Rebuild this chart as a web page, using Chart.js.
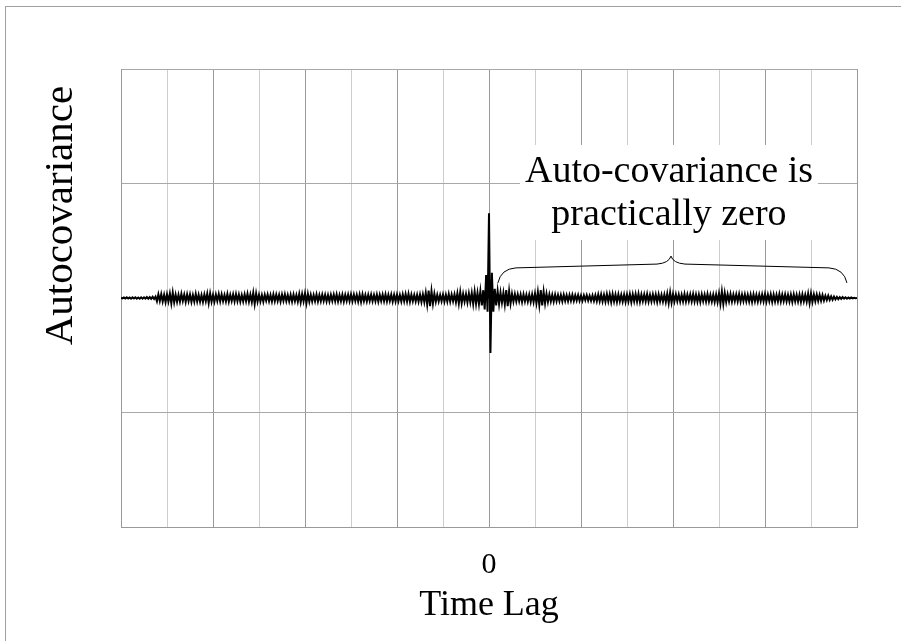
<!DOCTYPE html>
<html><head><meta charset="utf-8">
<script src="https://cdn.jsdelivr.net/npm/chart.js@4.4.1/dist/chart.umd.min.js"></script>
<style>html,body{margin:0;padding:0;background:#fff}</style>
</head><body>
<canvas id="c" width="901" height="641"></canvas>
<script>
// ---- data ----
const lagMin = -256;
const lagMax = 256;
const xTickLabels = { 0: '0' };
const xTitle = 'Time Lag';
const yTitle = 'Autocovariance';
const noteLines = ['Auto-covariance is', 'practically zero'];
// autocovariance values at lags -256 .. 256
const autocov = [
  0.1,-0.2,0.2,-0.2,0.3,-0.2,0.2,-0.3,0.3,-0.2,0.3,-0.3,0.2,-0.3,0.3,-0.3,
  0.3,-0.3,0.4,-0.3,0.4,-0.4,0.5,-0.4,0.6,-1.4,1.6,-1.3,1.7,-1.5,1.4,-1.8,
  1.6,-1.5,1.9,-2.3,2.4,-1.9,1.5,-1.7,1.4,-1.6,1.8,-1.3,1.5,-1.7,1.6,-1.4,
  1.5,-1.7,1.3,-1.6,1.8,-1.5,1.4,-1.6,1.3,-1.7,1.5,-1.4,1.9,-2.2,2.0,-1.6,
  1.4,-1.6,1.5,-1.3,1.7,-1.5,1.6,-1.4,1.3,-1.5,1.7,-1.6,1.4,-1.3,1.6,-1.5,
  1.7,-1.4,1.5,-1.6,1.3,-1.5,1.6,-1.4,1.8,-1.6,1.5,-1.7,2.3,-2.6,2.0,-1.6,
  1.4,-1.5,1.3,-1.6,1.4,-1.2,1.5,-1.4,1.3,-1.5,1.6,-1.4,1.5,-1.3,1.4,-1.6,
  1.5,-1.3,1.6,-1.4,1.3,-1.5,1.4,-1.6,1.5,-1.4,1.3,-1.6,1.8,-1.9,1.7,-1.5,
  2.0,-2.2,1.8,-1.6,1.4,-1.5,1.3,-1.4,1.6,-1.5,1.3,-1.4,1.5,-1.3,1.4,-1.5,
  1.3,-1.5,1.4,-1.3,1.5,-1.4,1.6,-1.5,1.3,-1.4,1.5,-1.6,1.4,-1.3,1.5,-1.4,
  1.6,-1.4,1.5,-1.3,1.4,-1.6,1.5,-1.7,1.6,-1.4,1.3,-1.5,1.4,-1.3,1.5,-1.4,
  1.3,-1.4,1.5,-1.6,1.4,-1.3,1.5,-1.4,1.6,-1.5,1.4,-1.3,1.5,-1.6,1.4,-1.5,
  1.5,-1.4,1.3,-1.5,1.6,-1.4,1.7,-1.5,1.8,-1.6,1.5,-1.4,1.3,-1.5,1.4,-1.6,
  1.5,-1.7,1.6,-1.8,2.2,-2.8,3.2,-3.6,3.0,-2.4,1.9,-1.6,1.4,-1.5,1.3,-1.4,
  1.5,-1.6,1.4,-1.5,1.7,-1.6,1.5,-1.4,1.6,-1.8,2.0,-2.4,2.6,-2.2,1.8,-1.6,
  1.7,-1.9,2.0,-1.8,2.2,-2.6,2.8,-2.5,2.2,-2.6,3.0,-3.2,3.4,-5.0,10,-6.0,
  37,
  -24,11,-6,4.0,-3.2,3.0,-2.6,2.4,-2.0,2.2,-2.8,3.4,-3.6,3.0,-2.4,1.8,
  -1.6,1.7,-1.5,1.6,-1.4,1.5,-1.7,1.6,-1.5,1.4,-1.6,1.5,-1.7,1.6,-1.8,1.9,
  -2.2,2.6,-3.0,3.4,-3.2,2.8,-2.3,1.9,-1.7,1.6,-1.5,1.4,-1.6,1.5,-1.4,1.3,
  -1.4,1.3,-1.5,1.4,-1.3,1.2,-1.4,1.3,-1.2,1.4,-1.3,1.2,-1.1,1.3,-1.2,1.1,
  -1.2,1.1,-1.0,1.2,-1.1,1.0,-1.2,1.1,-1.3,1.2,-1.4,1.5,-1.4,1.6,-1.5,1.4,
  -1.6,1.7,-1.5,1.6,-1.8,1.7,-1.6,1.5,-1.7,1.6,-1.5,1.4,-1.6,1.5,-1.7,1.6,
  -1.5,1.7,-1.8,1.6,-1.5,1.7,-1.6,1.8,-1.7,1.5,-1.4,1.6,-1.5,1.7,-1.6,1.4,
  -1.5,1.6,-1.4,1.5,-1.7,1.6,-1.5,1.4,-1.6,1.5,-1.7,1.9,-2.2,2.4,-2.0,1.7,
  -1.5,1.6,-1.4,1.5,-1.6,1.4,-1.5,1.7,-1.6,1.5,-1.4,1.6,-1.5,1.7,-1.6,1.5,
  -1.6,1.5,-1.7,1.6,-1.4,1.5,-1.6,1.7,-1.5,1.4,-1.6,1.5,-1.7,1.6,-1.8,2.0,
  -2.4,2.8,-2.6,2.2,-1.8,1.6,-1.5,1.7,-1.6,1.5,-1.4,1.6,-1.5,1.7,-1.6,1.5,
  -1.4,1.6,-1.5,1.4,-1.6,1.5,-1.7,1.6,-1.5,1.4,-1.6,1.5,-1.4,1.6,-1.5,1.7,
  -1.6,1.5,-1.4,1.6,-1.7,1.5,-1.6,1.4,-1.5,1.7,-1.6,1.5,-1.4,1.6,-1.5,1.4,
  -1.6,1.5,-1.7,1.6,-1.5,1.4,-1.6,1.5,-1.7,1.6,-1.5,1.4,-1.6,1.9,-2.2,2.0,
  -1.7,1.5,-1.4,1.5,-1.3,1.4,-1.2,1.3,-1.1,1.0,-0.9,1.0,-0.8,0.7,-0.8,0.6,
  -0.6,0.5,-0.5,0.4,-0.4,0.4,-0.3,0.3,-0.3,0.2,-0.2,0.2,-0.2,0.1,-0.1,0.0
];
const lags = autocov.map((_, i) => lagMin + i);

// annotation anchors in data units
const noteBox = { x0: 21.6, x1: 228.8, y0: 25.3, y1: 66.8 };
const noteCenterX = 125.2;
const noteBaselines = [50.7, 31.9];
const brace = { xL: 6.2, xR: 249, xTip: 126.6, yEnd: 6.6, yTip: 18.3 };
// y title sits above the plot centre in the original
const yTitleCenterValue = 36;

const SERIF = '"Liberation Serif", "Times New Roman", serif';

const framePlugin = {
  id: 'frame',
  beforeDraw(chart) {
    const ctx = chart.ctx;
    ctx.save();
    ctx.fillStyle = '#fff';
    ctx.fillRect(0, 0, chart.width, chart.height);
    ctx.strokeStyle = '#a0a0a0';
    ctx.lineWidth = 1;
    ctx.strokeRect(5.5, 6.5, 2000, 2000);
    ctx.restore();
  }
};

const notePlugin = {
  id: 'note',
  afterDraw(chart) {
    const ctx = chart.ctx;
    const xs = chart.scales.x, ys = chart.scales.y;
    ctx.save();
    // y axis title
    ctx.save();
    ctx.translate(72, ys.getPixelForValue(yTitleCenterValue));
    ctx.rotate(-Math.PI / 2);
    ctx.fillStyle = '#000';
    ctx.font = '41px ' + SERIF;
    ctx.textAlign = 'center';
    ctx.textBaseline = 'alphabetic';
    ctx.fillText(yTitle, 0, 0);
    ctx.restore();
    // white box behind text
    const bx0 = xs.getPixelForValue(noteBox.x0), bx1 = xs.getPixelForValue(noteBox.x1);
    const by0 = ys.getPixelForValue(noteBox.y1), by1 = ys.getPixelForValue(noteBox.y0);
    ctx.fillStyle = '#fff';
    ctx.fillRect(bx0, by0, bx1 - bx0, by1 - by0);
    ctx.fillStyle = '#000';
    ctx.font = '38px ' + SERIF;
    ctx.textAlign = 'center';
    ctx.textBaseline = 'alphabetic';
    const cx = xs.getPixelForValue(noteCenterX);
    noteLines.forEach((t, i) => ctx.fillText(t, cx, ys.getPixelForValue(noteBaselines[i])));
    // curly brace
    const xL = xs.getPixelForValue(brace.xL), xR = xs.getPixelForValue(brace.xR);
    const xM = xs.getPixelForValue(brace.xTip);
    const yE = ys.getPixelForValue(brace.yEnd), yT = ys.getPixelForValue(brace.yTip);
    ctx.strokeStyle = '#000';
    ctx.lineWidth = 1;
    ctx.beginPath();
    ctx.moveTo(xL, yE);
    ctx.quadraticCurveTo(xL + 3, yE - 14, xL + 18, yE - 15);
    ctx.lineTo(xM - 14, yT + 8);
    ctx.quadraticCurveTo(xM - 2, yT + 7, xM, yT);
    ctx.quadraticCurveTo(xM + 2, yT + 7, xM + 14, yT + 8);
    ctx.lineTo(xR - 18, yE - 15);
    ctx.quadraticCurveTo(xR - 3, yE - 14, xR, yE);
    ctx.stroke();
    ctx.restore();
  }
};

new Chart(document.getElementById('c'), {
  type: 'line',
  data: {
    datasets: [{
      data: lags.map((l, i) => ({ x: l, y: autocov[i] })),
      borderColor: '#000',
      backgroundColor: '#000',
      borderWidth: 2,
      pointRadius: 0,
      tension: 0,
      fill: 'origin'
    }]
  },
  options: {
    responsive: false,
    animation: false,
    devicePixelRatio: 1,
    layout: { padding: { top: 69, right: 44, left: 0, bottom: 0 } },
    plugins: { legend: { display: false }, tooltip: { enabled: false } },
    scales: {
      x: {
        type: 'linear',
        min: lagMin, max: lagMax,
        afterFit(s) { s.height = 114; },
        grid: {
          drawTicks: false,
          color: (c) => (c.index % 2 === 0 ? '#9a9a9a' : '#cdcdcd'),
          lineWidth: 1
        },
        border: { color: '#999' },
        ticks: {
          stepSize: 32, autoSkip: false, maxRotation: 0,
          padding: 20,
          color: '#000',
          font: { family: SERIF, size: 30 },
          callback: (v) => (xTickLabels[v] !== undefined ? xTickLabels[v] : '')
        },
        title: {
          display: true, text: xTitle, color: '#000',
          font: { family: SERIF, size: 36 },
          padding: { top: 0, bottom: 14 }
        }
      },
      y: {
        min: -100, max: 100,
        afterFit(s) { s.width = 121; },
        grid: { drawTicks: false, color: '#a8a8a8', lineWidth: 1 },
        border: { color: '#999' },
        ticks: { display: false, stepSize: 50 },
        title: { display: false }
      }
    }
  },
  plugins: [framePlugin, notePlugin]
});
</script>
</body></html>
